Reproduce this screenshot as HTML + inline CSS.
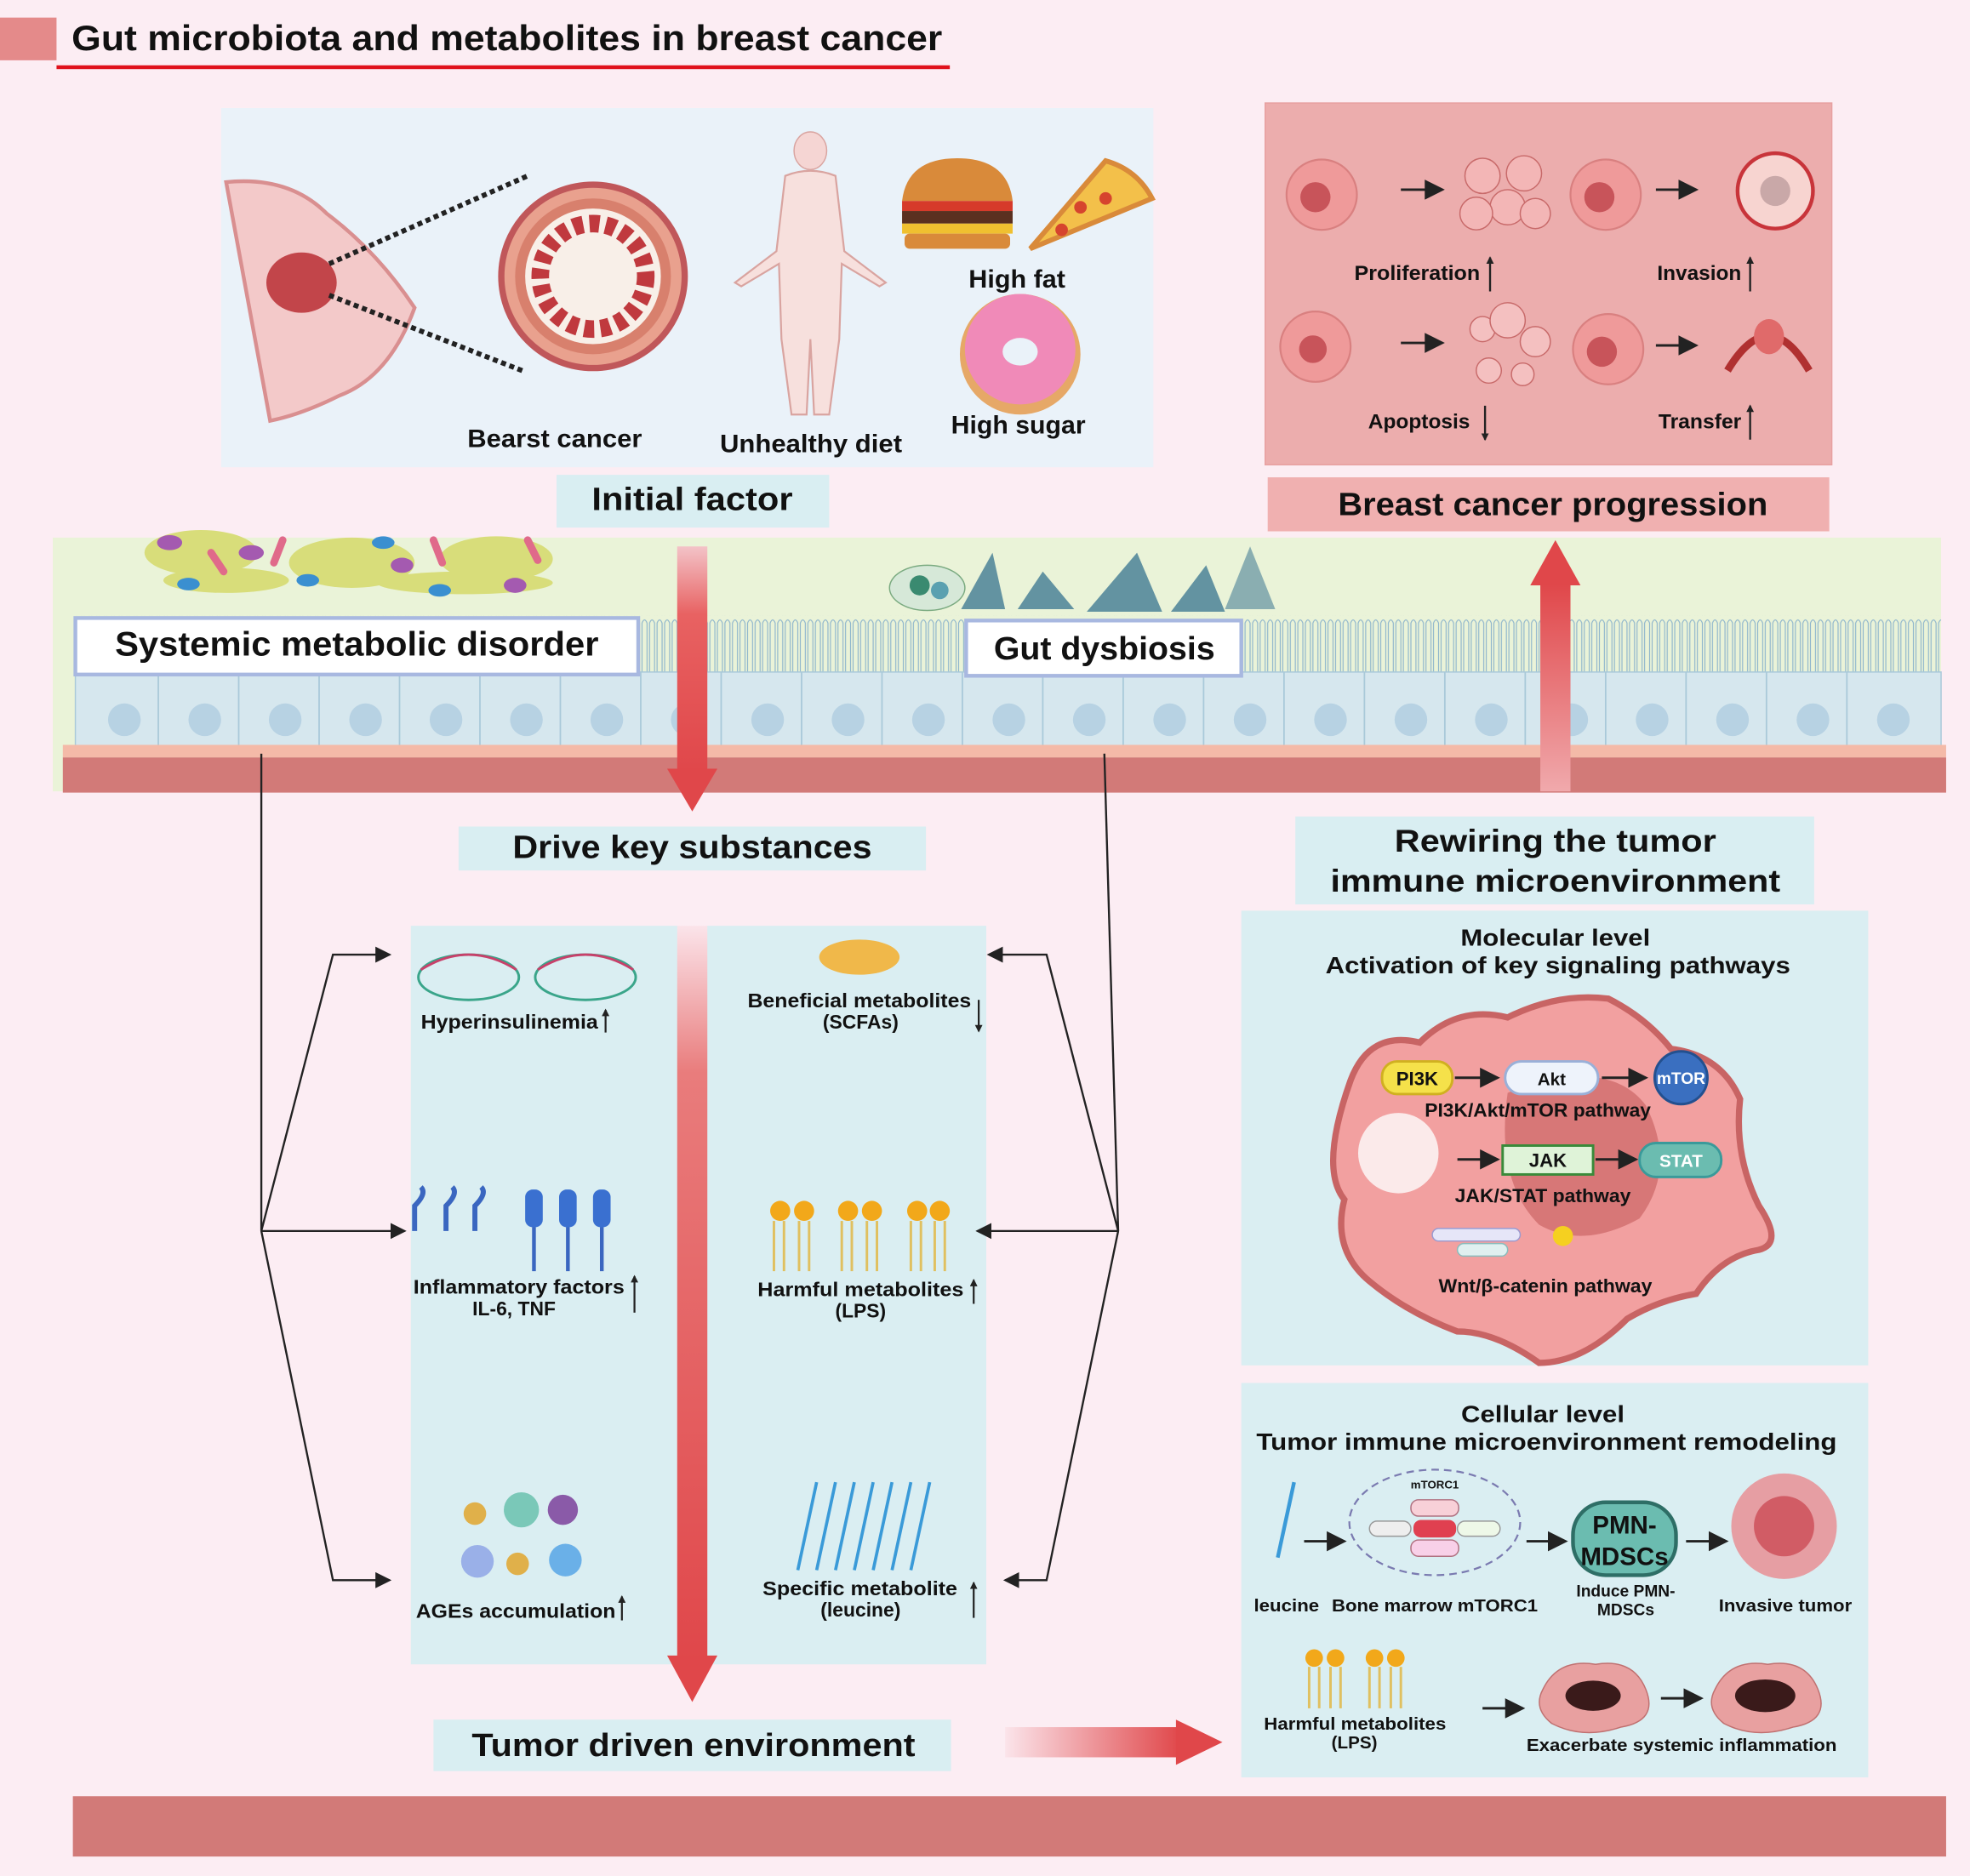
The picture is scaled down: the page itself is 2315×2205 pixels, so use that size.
<!DOCTYPE html>
<html><head><meta charset="utf-8"><style>
html,body{margin:0;padding:0;background:#fcedf3}
svg{display:block}
text{font-family:"Liberation Sans",sans-serif;font-weight:bold;fill:#111}
</style></head><body>
<svg width="2315" height="2205" viewBox="0 0 1568 1493.5" preserveAspectRatio="none" xmlns="http://www.w3.org/2000/svg">
<defs>
<linearGradient id="gd" x1="0" y1="0" x2="0" y2="1"><stop offset="0" stop-color="#f3c3c8"/><stop offset="0.3" stop-color="#e86262"/><stop offset="1" stop-color="#e0474a"/></linearGradient>
<linearGradient id="gd2" x1="0" y1="0" x2="0" y2="1"><stop offset="0" stop-color="#fbe4ea"/><stop offset="0.2" stop-color="#e97c7c"/><stop offset="1" stop-color="#e0474a"/></linearGradient>
<linearGradient id="gu" x1="0" y1="1" x2="0" y2="0"><stop offset="0" stop-color="#f0a9ac"/><stop offset="1" stop-color="#e0474a"/></linearGradient>
<linearGradient id="gr" x1="0" y1="0" x2="1" y2="0"><stop offset="0" stop-color="#fbe4ea"/><stop offset="1" stop-color="#e0474a"/></linearGradient>
<pattern id="vil" x="60" y="490" width="6" height="46" patternUnits="userSpaceOnUse"><path d="M1 46 V6 Q3 1 5 6 V46" fill="none" stroke="#8fb6cc" stroke-width="0.8"/></pattern>
<marker id="ah" markerWidth="8" markerHeight="8" refX="7" refY="4" orient="auto"><path d="M0,0 L8,4 L0,8 z" fill="#222"/></marker>
<marker id="sa" markerWidth="6" markerHeight="6" refX="5" refY="3" orient="auto" markerUnits="userSpaceOnUse"><path d="M0,0 L6,3 L0,6 z" fill="#222"/></marker>
</defs>
<rect width="1568" height="1494" fill="#fcedf3"/>
<!-- title -->
<rect x="0" y="14" width="45" height="34" fill="#e48a8a"/>
<text x="57" y="40" font-size="28" textLength="693" lengthAdjust="spacingAndGlyphs">Gut microbiota and metabolites in breast cancer</text>
<rect x="45" y="52" width="711" height="3" fill="#e0121c"/>
<!-- top panel -->
<rect x="176" y="86" width="742" height="286" fill="#eaf2f9"/>
<path d="M180 145 Q230 140 260 170 Q300 200 330 245 Q310 300 270 315 Q240 330 215 335 Z" fill="#f3c9c9" stroke="#d98f90" stroke-width="3"/>
<ellipse cx="240" cy="225" rx="28" ry="24" fill="#c2454a"/>
<line x1="262" y1="210" x2="420" y2="140" stroke="#222" stroke-width="4" stroke-dasharray="4 3"/>
<line x1="262" y1="235" x2="418" y2="296" stroke="#222" stroke-width="4" stroke-dasharray="4 3"/>
<circle cx="472" cy="220" r="73" fill="#e9a18e" stroke="#c0575a" stroke-width="5"/>
<circle cx="472" cy="220" r="58" fill="#f8efe8" stroke="#d8806d" stroke-width="8"/>
<circle cx="472" cy="220" r="42" fill="none" stroke="#c0393e" stroke-width="14" stroke-dasharray="8 5"/>
<text x="372" y="356" font-size="20" textLength="139" lengthAdjust="spacingAndGlyphs">Bearst cancer</text>
<ellipse cx="645" cy="120" rx="13" ry="15" fill="#f5d5d3" stroke="#d9a4a0"/>
<path d="M625 140 Q645 132 665 140 L672 200 L705 225 L700 228 L670 210 L668 270 L660 330 L648 330 L645 270 L642 330 L630 330 L622 270 L620 210 L590 228 L585 225 L618 200 Z" fill="#f7e0dd" stroke="#d9a4a0" stroke-width="1.5"/>
<text x="573" y="360" font-size="20" textLength="145" lengthAdjust="spacingAndGlyphs">Unhealthy diet</text>
<path d="M718 160 Q722 126 762 126 Q802 126 806 160 Z" fill="#d98a3a"/>
<rect x="718" y="160" width="88" height="8" fill="#d63a2a"/><rect x="718" y="168" width="88" height="10" fill="#5a3020"/><rect x="718" y="178" width="88" height="8" fill="#f0c030"/><rect x="720" y="186" width="84" height="12" rx="4" fill="#d98a3a"/>
<path d="M820 198 L880 128 Q905 135 917 158 Z" fill="#f3c04a" stroke="#d98a3a" stroke-width="4"/>
<circle cx="860" cy="165" r="5" fill="#d6442e"/><circle cx="880" cy="158" r="5" fill="#d6442e"/><circle cx="845" cy="183" r="5" fill="#d6442e"/>
<text x="771" y="229" font-size="20" textLength="77" lengthAdjust="spacingAndGlyphs">High fat</text>
<circle cx="812" cy="282" r="48" fill="#e6a867"/><circle cx="812" cy="278" r="44" fill="#f08ab8"/><ellipse cx="812" cy="280" rx="14" ry="11" fill="#eaf2f9"/>
<text x="757" y="345" font-size="20" textLength="107" lengthAdjust="spacingAndGlyphs">High sugar</text>
<rect x="443" y="378" width="217" height="42" fill="#d9eef2"/>
<text x="551" y="406" font-size="26" text-anchor="middle" textLength="160" lengthAdjust="spacingAndGlyphs">Initial factor</text>
<!-- progression panel -->
<rect x="1007" y="82" width="451" height="288" fill="#ecadad" stroke="#e7a0a0"/>
<g fill="#ef9a9a" stroke="#d98080" stroke-width="1.5">
<circle cx="1052" cy="155" r="28"/><circle cx="1278" cy="155" r="28"/><circle cx="1047" cy="276" r="28"/><circle cx="1280" cy="278" r="28"/></g>
<g fill="#c8545a"><circle cx="1047" cy="157" r="12"/><circle cx="1273" cy="157" r="12"/><circle cx="1045" cy="278" r="11"/><circle cx="1275" cy="280" r="12"/></g>
<g fill="#f3b6b6" stroke="#c86a6a"><circle cx="1180" cy="140" r="14"/><circle cx="1213" cy="138" r="14"/><circle cx="1200" cy="165" r="14"/><circle cx="1175" cy="170" r="13"/><circle cx="1222" cy="170" r="12"/></g>
<circle cx="1413" cy="152" r="30" fill="#f7d4d0" stroke="#c8343a" stroke-width="3"/><circle cx="1413" cy="152" r="12" fill="#c9a8a8"/>
<g fill="#f4c0c0" stroke="#c86a6a"><circle cx="1180" cy="262" r="10"/><circle cx="1200" cy="255" r="14"/><circle cx="1222" cy="272" r="12"/><circle cx="1185" cy="295" r="10"/><circle cx="1212" cy="298" r="9"/></g>
<path d="M1375 295 Q1408 240 1440 295" fill="none" stroke="#b03030" stroke-width="6"/><ellipse cx="1408" cy="268" rx="12" ry="14" fill="#e06a6a"/>
<g stroke="#222" stroke-width="2" marker-end="url(#ah)"><line x1="1115" y1="151" x2="1148" y2="151"/><line x1="1318" y1="151" x2="1350" y2="151"/><line x1="1115" y1="273" x2="1148" y2="273"/><line x1="1318" y1="275" x2="1350" y2="275"/></g>
<text x="1078" y="223" font-size="16" textLength="100" lengthAdjust="spacingAndGlyphs">Proliferation</text><text x="1319" y="223" font-size="16" textLength="67" lengthAdjust="spacingAndGlyphs">Invasion</text>
<text x="1089" y="341" font-size="16" textLength="81" lengthAdjust="spacingAndGlyphs">Apoptosis</text><text x="1320" y="341" font-size="16" textLength="66" lengthAdjust="spacingAndGlyphs">Transfer</text>
<g stroke="#222" stroke-width="1.6" marker-end="url(#sa)"><line x1="1186" y1="232" x2="1186" y2="205"/><line x1="1393" y1="232" x2="1393" y2="205"/><line x1="1182" y1="323" x2="1182" y2="350"/><line x1="1393" y1="350" x2="1393" y2="323"/></g>
<rect x="1009" y="380" width="447" height="43" fill="#f0b0b0"/>
<text x="1236" y="410" font-size="26" text-anchor="middle" textLength="342" lengthAdjust="spacingAndGlyphs">Breast cancer progression</text>
<!-- gut band -->
<rect x="42" y="428" width="1503" height="202" fill="#eaf3d8"/>
<rect x="60" y="490" width="1485" height="46" fill="url(#vil)"/>
<rect x="60" y="535" width="1485" height="60" fill="#d6e7ee" stroke="#a9c9d9"/>
<g stroke="#a9c9d9" stroke-width="1.2">
<line x1="126" y1="535" x2="126" y2="595"/><line x1="190" y1="535" x2="190" y2="595"/><line x1="254" y1="535" x2="254" y2="595"/><line x1="318" y1="535" x2="318" y2="595"/><line x1="382" y1="535" x2="382" y2="595"/><line x1="446" y1="535" x2="446" y2="595"/><line x1="510" y1="535" x2="510" y2="595"/><line x1="574" y1="535" x2="574" y2="595"/><line x1="638" y1="535" x2="638" y2="595"/><line x1="702" y1="535" x2="702" y2="595"/><line x1="766" y1="535" x2="766" y2="595"/><line x1="830" y1="535" x2="830" y2="595"/><line x1="894" y1="535" x2="894" y2="595"/><line x1="958" y1="535" x2="958" y2="595"/><line x1="1022" y1="535" x2="1022" y2="595"/><line x1="1086" y1="535" x2="1086" y2="595"/><line x1="1150" y1="535" x2="1150" y2="595"/><line x1="1214" y1="535" x2="1214" y2="595"/><line x1="1278" y1="535" x2="1278" y2="595"/><line x1="1342" y1="535" x2="1342" y2="595"/><line x1="1406" y1="535" x2="1406" y2="595"/><line x1="1470" y1="535" x2="1470" y2="595"/></g>
<g fill="#b7d2e3"><circle cx="99" cy="573" r="13"/><circle cx="163" cy="573" r="13"/><circle cx="227" cy="573" r="13"/><circle cx="291" cy="573" r="13"/><circle cx="355" cy="573" r="13"/><circle cx="419" cy="573" r="13"/><circle cx="483" cy="573" r="13"/><circle cx="547" cy="573" r="13"/><circle cx="611" cy="573" r="13"/><circle cx="675" cy="573" r="13"/><circle cx="739" cy="573" r="13"/><circle cx="803" cy="573" r="13"/><circle cx="867" cy="573" r="13"/><circle cx="931" cy="573" r="13"/><circle cx="995" cy="573" r="13"/><circle cx="1059" cy="573" r="13"/><circle cx="1123" cy="573" r="13"/><circle cx="1187" cy="573" r="13"/><circle cx="1251" cy="573" r="13"/><circle cx="1315" cy="573" r="13"/><circle cx="1379" cy="573" r="13"/><circle cx="1443" cy="573" r="13"/><circle cx="1507" cy="573" r="13"/></g>
<rect x="50" y="593" width="1499" height="10" fill="#f4baa8"/>
<rect x="50" y="603" width="1499" height="28" fill="#d27a78"/>
<!-- microbes -->
<g fill="#d8dd7a"><ellipse cx="160" cy="440" rx="45" ry="18"/><ellipse cx="280" cy="448" rx="50" ry="20"/><ellipse cx="395" cy="445" rx="45" ry="18"/><ellipse cx="180" cy="462" rx="50" ry="10"/><ellipse cx="370" cy="464" rx="70" ry="9"/></g>
<g fill="#a45ab0"><ellipse cx="135" cy="432" rx="10" ry="6"/><ellipse cx="200" cy="440" rx="10" ry="6"/><ellipse cx="320" cy="450" rx="9" ry="6"/><ellipse cx="410" cy="466" rx="9" ry="6"/></g>
<g fill="#3a8fd0"><ellipse cx="150" cy="465" rx="9" ry="5"/><ellipse cx="245" cy="462" rx="9" ry="5"/><ellipse cx="305" cy="432" rx="9" ry="5"/><ellipse cx="350" cy="470" rx="9" ry="5"/></g>
<g stroke="#e06a8a" stroke-width="6" stroke-linecap="round"><line x1="168" y1="440" x2="178" y2="455"/><line x1="225" y1="430" x2="218" y2="448"/><line x1="345" y1="430" x2="352" y2="448"/><line x1="420" y1="430" x2="428" y2="446"/></g>
<ellipse cx="738" cy="468" rx="30" ry="18" fill="#d6e8d8" stroke="#7aaa80"/><circle cx="732" cy="466" r="8" fill="#3a8a70"/><circle cx="748" cy="470" r="7" fill="#5aa0b0"/>
<g fill="#2a6a8a"><path d="M765 485 L790 440 L800 485 Z" opacity="0.7"/><path d="M810 485 L830 455 L855 485 Z" opacity="0.7"/><path d="M865 487 L905 440 L925 487 Z" opacity="0.7"/><path d="M932 487 L960 450 L975 487 Z" opacity="0.7"/><path d="M975 485 L995 435 L1015 485 Z" opacity="0.5"/></g>
<!-- arrows through gut -->
<rect x="539" y="435" width="24" height="180" fill="url(#gd)"/>
<path d="M531 612 L571 612 L551 646 Z" fill="#e0474a"/>
<rect x="1226" y="465" width="24" height="165" fill="url(#gu)"/>
<path d="M1218 466 L1258 466 L1238 430 Z" fill="#e0474a"/>
<rect x="60" y="492" width="448" height="45" fill="#fff" stroke="#a8b8e0" stroke-width="3"/>
<text x="284" y="522" font-size="27" text-anchor="middle" textLength="385" lengthAdjust="spacingAndGlyphs">Systemic metabolic disorder</text>
<rect x="769" y="494" width="219" height="44" fill="#fff" stroke="#a8b8e0" stroke-width="3"/>
<text x="879" y="525" font-size="26" text-anchor="middle" textLength="176" lengthAdjust="spacingAndGlyphs">Gut dysbiosis</text>
<!-- drive key -->
<rect x="365" y="658" width="372" height="35" fill="#d9eef2"/>
<text x="551" y="683" font-size="26" text-anchor="middle" textLength="286" lengthAdjust="spacingAndGlyphs">Drive key substances</text>
<rect x="1031" y="650" width="413" height="70" fill="#d9eef2"/>
<text x="1238" y="678" font-size="25" text-anchor="middle" textLength="256" lengthAdjust="spacingAndGlyphs">Rewiring the tumor</text>
<text x="1238" y="710" font-size="25" text-anchor="middle" textLength="358" lengthAdjust="spacingAndGlyphs">immune microenvironment</text>
<!-- middle panels -->
<rect x="327" y="737" width="213" height="588" fill="#daeef2"/>
<rect x="562" y="737" width="223" height="588" fill="#daeef2"/>
<rect x="539" y="737" width="24" height="585" fill="url(#gd2)"/>
<path d="M531 1318 L571 1318 L551 1355 Z" fill="#e0474a"/>
<!-- connectors -->
<g fill="none" stroke="#222" stroke-width="1.6">
<path d="M208 600 V980"/><path d="M208 980 L265 760 H310" marker-end="url(#ah)"/><path d="M208 980 H322" marker-end="url(#ah)"/><path d="M208 980 L265 1258 H310" marker-end="url(#ah)"/>
<path d="M879 600 L890 980"/><path d="M890 980 L833 760 H787" marker-end="url(#ah)"/><path d="M890 980 H778" marker-end="url(#ah)"/><path d="M890 980 L833 1258 H800" marker-end="url(#ah)"/>
</g>
<!-- left items -->
<g fill="none" stroke-width="2"><ellipse cx="373" cy="778" rx="40" ry="18" stroke="#3aa58a"/><ellipse cx="466" cy="778" rx="40" ry="18" stroke="#3aa58a"/><path d="M335 772 Q373 748 411 772" stroke="#c8406a"/><path d="M428 772 Q466 748 504 772" stroke="#c8406a"/></g>
<text x="335" y="819" font-size="15.5" textLength="141" lengthAdjust="spacingAndGlyphs">Hyperinsulinemia</text>
<g stroke="#222" stroke-width="1.5" marker-end="url(#sa)">
<line x1="482" y1="822" x2="482" y2="804"/><line x1="505" y1="1045" x2="505" y2="1016"/><line x1="495" y1="1290" x2="495" y2="1271"/>
<line x1="779" y1="796" x2="779" y2="821"/><line x1="775" y1="1038" x2="775" y2="1019"/><line x1="775" y1="1288" x2="775" y2="1260"/>
<line x1="1158" y1="1393" x2="1158" y2="1370"/></g>
<g stroke="#3a66c0" stroke-width="4" fill="none"><path d="M330 980 V960 Q340 950 335 945"/><path d="M355 980 V960 Q365 950 360 945"/><path d="M378 980 V960 Q388 950 383 945"/></g>
<g fill="#3a70d0"><rect x="418" y="947" width="14" height="30" rx="6"/><rect x="445" y="947" width="14" height="30" rx="6"/><rect x="472" y="947" width="14" height="30" rx="6"/></g>
<g stroke="#3a66c0" stroke-width="3"><line x1="425" y1="977" x2="425" y2="1012"/><line x1="452" y1="977" x2="452" y2="1012"/><line x1="479" y1="977" x2="479" y2="1012"/></g>
<text x="329" y="1030" font-size="15.5" textLength="168" lengthAdjust="spacingAndGlyphs">Inflammatory factors</text><text x="376" y="1047" font-size="15.5">IL-6, TNF</text>
<circle cx="415" cy="1202" r="14" fill="#7ac8b8"/><circle cx="448" cy="1202" r="12" fill="#8a5aa8"/><circle cx="378" cy="1205" r="9" fill="#e0b04a"/><circle cx="380" cy="1243" r="13" fill="#9ab0e8"/><circle cx="412" cy="1245" r="9" fill="#e0b04a"/><circle cx="450" cy="1242" r="13" fill="#6ab0e8"/>
<text x="331" y="1288" font-size="15.5" textLength="159" lengthAdjust="spacingAndGlyphs">AGEs accumulation</text>
<!-- right items -->
<ellipse cx="684" cy="762" rx="32" ry="14" fill="#f0b84a"/>
<text x="595" y="802" font-size="15.5" textLength="178" lengthAdjust="spacingAndGlyphs">Beneficial metabolites</text><text x="685" y="819" font-size="15.5" text-anchor="middle">(SCFAs)</text>
<g fill="#f2a81a"><circle cx="621" cy="964" r="8"/><circle cx="640" cy="964" r="8"/><circle cx="675" cy="964" r="8"/><circle cx="694" cy="964" r="8"/><circle cx="730" cy="964" r="8"/><circle cx="748" cy="964" r="8"/></g>
<g stroke="#e0c060" stroke-width="2"><line x1="616" y1="972" x2="616" y2="1012"/><line x1="624" y1="972" x2="624" y2="1012"/><line x1="636" y1="972" x2="636" y2="1012"/><line x1="644" y1="972" x2="644" y2="1012"/><line x1="670" y1="972" x2="670" y2="1012"/><line x1="678" y1="972" x2="678" y2="1012"/><line x1="690" y1="972" x2="690" y2="1012"/><line x1="698" y1="972" x2="698" y2="1012"/><line x1="725" y1="972" x2="725" y2="1012"/><line x1="733" y1="972" x2="733" y2="1012"/><line x1="744" y1="972" x2="744" y2="1012"/><line x1="752" y1="972" x2="752" y2="1012"/></g>
<text x="603" y="1032" font-size="15.5" textLength="164" lengthAdjust="spacingAndGlyphs">Harmful metabolites</text><text x="685" y="1049" font-size="15.5" text-anchor="middle">(LPS)</text>
<g stroke="#3a9ad8" stroke-width="2.5" fill="none"><path d="M650 1180 L635 1250"/><path d="M665 1180 L650 1250"/><path d="M680 1180 L665 1250"/><path d="M695 1180 L680 1250"/><path d="M710 1180 L695 1250"/><path d="M725 1180 L710 1250"/><path d="M740 1180 L725 1250"/></g>
<text x="607" y="1270" font-size="15.5" textLength="155" lengthAdjust="spacingAndGlyphs">Specific metabolite</text><text x="685" y="1287" font-size="15.5" text-anchor="middle">(leucine)</text>
<!-- tumor driven -->
<rect x="345" y="1369" width="412" height="41" fill="#d9eef2"/>
<text x="552" y="1398" font-size="26" text-anchor="middle" textLength="353" lengthAdjust="spacingAndGlyphs">Tumor driven environment</text>
<rect x="800" y="1375" width="140" height="24" fill="url(#gr)"/>
<path d="M936 1369 L973 1387 L936 1405 Z" fill="#e0474a"/>
<!-- molecular panel -->
<rect x="988" y="725" width="499" height="362" fill="#daeef2"/>
<text x="1238" y="753" font-size="19" text-anchor="middle" textLength="151" lengthAdjust="spacingAndGlyphs">Molecular level</text>
<text x="1240" y="775" font-size="19" text-anchor="middle" textLength="370" lengthAdjust="spacingAndGlyphs">Activation of key signaling pathways</text>
<path d="M1075 860 Q1090 820 1130 830 Q1160 800 1200 810 Q1240 790 1280 795 Q1310 810 1330 835 Q1370 840 1385 875 Q1380 920 1400 960 Q1420 990 1400 995 Q1370 1000 1350 1030 Q1320 1035 1295 1050 Q1260 1085 1225 1085 Q1190 1060 1160 1060 Q1120 1045 1090 1020 Q1060 995 1070 955 Q1050 930 1075 860 Z" fill="#f2a0a0" stroke="#c86464" stroke-width="5"/>
<path d="M1200 870 Q1280 840 1310 880 Q1335 930 1305 970 Q1260 995 1225 975 Q1190 940 1200 870 Z" fill="#d77777"/>
<circle cx="1113" cy="918" r="32" fill="#fbeaea"/>
<rect x="1100" y="845" width="56" height="26" rx="12" fill="#f5e14a" stroke="#d0b020" stroke-width="2"/><text x="1128" y="864" font-size="15" font-weight="normal" text-anchor="middle">PI3K</text>
<rect x="1198" y="845" width="74" height="26" rx="13" fill="#eef3fb" stroke="#9ab0d8" stroke-width="2"/><text x="1235" y="864" font-size="14" font-weight="normal" text-anchor="middle">Akt</text>
<circle cx="1338" cy="858" r="21" fill="#3a6fc0" stroke="#23508f" stroke-width="2"/><text x="1338" y="863" font-size="13" font-weight="normal" text-anchor="middle" style="fill:#fff">mTOR</text>
<text x="1224" y="889" font-size="15" text-anchor="middle" textLength="180" lengthAdjust="spacingAndGlyphs">PI3K/Akt/mTOR pathway</text>
<rect x="1196" y="912" width="72" height="23" fill="#dff3d8" stroke="#3a8a3a" stroke-width="2"/><text x="1232" y="929" font-size="15" text-anchor="middle">JAK</text>
<rect x="1305" y="910" width="65" height="27" rx="13" fill="#6bbcb0" stroke="#3a9a9a" stroke-width="2"/><text x="1338" y="929" font-size="14" text-anchor="middle" style="fill:#fff">STAT</text>
<text x="1228" y="957" font-size="15" text-anchor="middle" textLength="140" lengthAdjust="spacingAndGlyphs">JAK/STAT pathway</text>
<g stroke="#222" stroke-width="2" marker-end="url(#ah)"><line x1="1158" y1="858" x2="1192" y2="858"/><line x1="1275" y1="858" x2="1310" y2="858"/><line x1="1160" y1="923" x2="1192" y2="923"/><line x1="1270" y1="923" x2="1302" y2="923"/></g>
<rect x="1140" y="978" width="70" height="10" rx="5" fill="#e6e6f8" stroke="#9a9ad0"/><rect x="1160" y="990" width="40" height="10" rx="5" fill="#e0f0f0" stroke="#8abcbc"/><circle cx="1244" cy="984" r="8" fill="#f5d020"/>
<text x="1230" y="1029" font-size="15" text-anchor="middle" textLength="170" lengthAdjust="spacingAndGlyphs">Wnt/β-catenin pathway</text>
<!-- cellular panel -->
<rect x="988" y="1101" width="499" height="314" fill="#daeef2"/>
<text x="1228" y="1132" font-size="19" text-anchor="middle" textLength="130" lengthAdjust="spacingAndGlyphs">Cellular level</text>
<text x="1231" y="1154" font-size="19" text-anchor="middle" textLength="462" lengthAdjust="spacingAndGlyphs">Tumor immune microenvironment remodeling</text>
<path d="M1030 1180 L1017 1240" stroke="#3a9ad8" stroke-width="3"/>
<ellipse cx="1142" cy="1212" rx="68" ry="42" fill="none" stroke="#7a7ab0" stroke-width="1.5" stroke-dasharray="6 4"/>
<text x="1142" y="1185" font-size="9" text-anchor="middle">mTORC1</text>
<rect x="1123" y="1194" width="38" height="13" rx="6" fill="#f8d0d8" stroke="#b07080"/><rect x="1125" y="1210" width="34" height="14" rx="6" fill="#e04050"/><rect x="1123" y="1226" width="38" height="13" rx="6" fill="#f8d0e8" stroke="#b07080"/>
<rect x="1090" y="1211" width="33" height="12" rx="6" fill="#eee" stroke="#999"/><rect x="1160" y="1211" width="34" height="12" rx="6" fill="#eef8e8" stroke="#999"/>
<rect x="1252" y="1196" width="82" height="58" rx="26" fill="#6bbcb0" stroke="#2e6e66" stroke-width="3"/>
<text x="1293" y="1221" font-size="20" font-weight="normal" text-anchor="middle">PMN-</text><text x="1293" y="1246" font-size="20" font-weight="normal" text-anchor="middle">MDSCs</text>
<circle cx="1420" cy="1215" r="42" fill="#e88a8e" opacity="0.8"/><circle cx="1420" cy="1215" r="24" fill="#c8404a" opacity="0.7"/>
<g stroke="#222" stroke-width="2" marker-end="url(#ah)"><line x1="1038" y1="1227" x2="1070" y2="1227"/><line x1="1215" y1="1227" x2="1246" y2="1227"/><line x1="1342" y1="1227" x2="1374" y2="1227"/><line x1="1180" y1="1360" x2="1212" y2="1360"/><line x1="1322" y1="1352" x2="1354" y2="1352"/></g>
<text x="998" y="1283" font-size="14" textLength="52" lengthAdjust="spacingAndGlyphs">leucine</text><text x="1060" y="1283" font-size="14" textLength="164" lengthAdjust="spacingAndGlyphs">Bone marrow mTORC1</text>
<text x="1294" y="1271" font-size="13" text-anchor="middle">Induce PMN-</text><text x="1294" y="1286" font-size="13" text-anchor="middle">MDSCs</text>
<text x="1368" y="1283" font-size="14" textLength="106" lengthAdjust="spacingAndGlyphs">Invasive tumor</text>
<g fill="#f2a81a"><circle cx="1046" cy="1320" r="7"/><circle cx="1063" cy="1320" r="7"/><circle cx="1094" cy="1320" r="7"/><circle cx="1111" cy="1320" r="7"/></g>
<g stroke="#e0c060" stroke-width="2"><line x1="1042" y1="1327" x2="1042" y2="1360"/><line x1="1050" y1="1327" x2="1050" y2="1360"/><line x1="1059" y1="1327" x2="1059" y2="1360"/><line x1="1067" y1="1327" x2="1067" y2="1360"/><line x1="1090" y1="1327" x2="1090" y2="1360"/><line x1="1098" y1="1327" x2="1098" y2="1360"/><line x1="1107" y1="1327" x2="1107" y2="1360"/><line x1="1115" y1="1327" x2="1115" y2="1360"/></g>
<text x="1006" y="1377" font-size="14" textLength="145" lengthAdjust="spacingAndGlyphs">Harmful metabolites</text><text x="1078" y="1392" font-size="14" text-anchor="middle">(LPS)</text>
<path d="M1228 1345 Q1240 1320 1270 1325 Q1300 1320 1310 1345 Q1320 1370 1290 1375 Q1260 1385 1235 1372 Q1220 1360 1228 1345 Z" fill="#e8a0a0" stroke="#c07070"/><ellipse cx="1268" cy="1350" rx="22" ry="12" fill="#3a1a1a"/>
<path d="M1365 1345 Q1377 1320 1407 1325 Q1437 1320 1447 1345 Q1457 1370 1427 1375 Q1397 1385 1372 1372 Q1357 1360 1365 1345 Z" fill="#e8a0a0" stroke="#c07070"/><ellipse cx="1405" cy="1350" rx="24" ry="13" fill="#3a1a1a"/>
<text x="1215" y="1394" font-size="14" textLength="247" lengthAdjust="spacingAndGlyphs">Exacerbate systemic inflammation</text>
<!-- bottom bar -->
<rect x="58" y="1430" width="1491" height="48" fill="#d27a78"/>
</svg>
</body></html>
